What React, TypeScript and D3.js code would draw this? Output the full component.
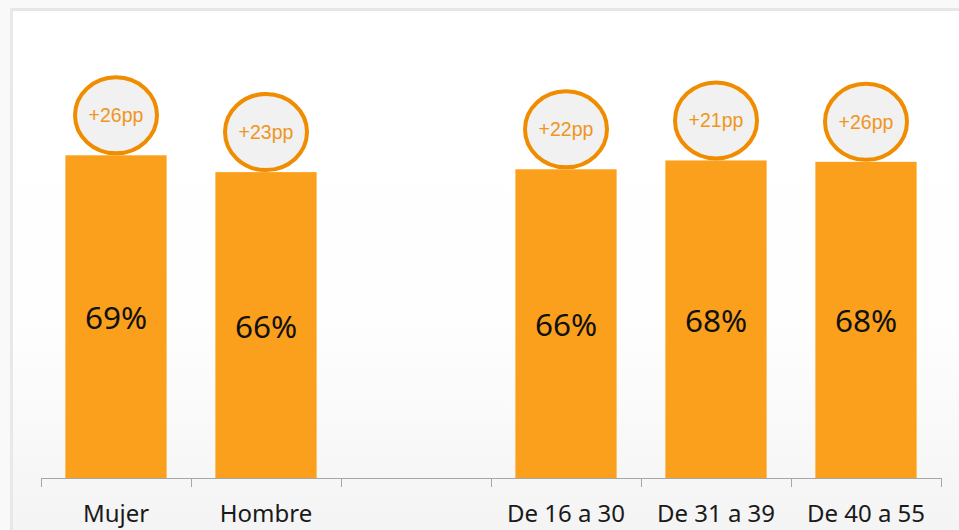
import React, { useEffect, useRef } from 'react';
import * as d3 from 'd3';

// categories (the empty slot keeps the gap between gender and age groups)
const categories = ['Mujer', 'Hombre', '', 'De 16 a 30', 'De 31 a 39', 'De 40 a 55'];
// bar heights (percent)
const values = [69.1, 65.5, null, 66.1, 68.0, 67.7];
// printed labels inside the bars
const valueLabels = ['69%', '66%', '', '66%', '68%', '68%'];
// change badges above the bars
const deltaLabels = ['+26pp', '+23pp', '', '+22pp', '+21pp', '+26pp'];

const BAR = '#FBA01C';
const RING = '#F08C00';
const BADGE_TEXT = '#EF9520';

function App() {
    const ref = useRef<SVGSVGElement>(null);

    useEffect(() => {
        const width = 959;
        const height = 530;
        const margin = { top: 11, right: 18, bottom: 52, left: 41 };

        const svg = d3.select(ref.current);
        svg.selectAll('*').remove();

        // background with a faint fade at the bottom
        const defs = svg.append('defs');
        const grad = defs.append('linearGradient')
            .attr('id', 'bg')
            .attr('x1', 0).attr('y1', 0).attr('x2', 0).attr('y2', 1);
        grad.append('stop').attr('offset', '0%').attr('stop-color', '#ffffff');
        grad.append('stop').attr('offset', '60%').attr('stop-color', '#fefefe');
        grad.append('stop').attr('offset', '100%').attr('stop-color', '#f4f4f4');

        svg.append('rect')
            .attr('width', width).attr('height', height)
            .attr('fill', '#f9f9f9');
        svg.append('rect')
            .attr('x', 12).attr('y', 10)
            .attr('width', width - 12).attr('height', height - 10)
            .attr('fill', 'url(#bg)');
        // frame edges (top and left)
        svg.append('rect')
            .attr('x', 10).attr('y', 8)
            .attr('width', width - 10).attr('height', 3)
            .attr('fill', '#e6e6e6');
        svg.append('rect')
            .attr('x', 10).attr('y', 8)
            .attr('width', 3).attr('height', height - 8)
            .attr('fill', '#e8e8e8');

        const x = d3.scaleBand()
            .domain(categories.map((c, i) => String(i)))
            .range([margin.left, width - margin.right])
            .paddingInner(0.325)
            .paddingOuter(0.1625);

        const band = d3.scaleBand()
            .domain(categories.map((c, i) => String(i)))
            .range([margin.left, width - margin.right]);

        const y = d3.scaleLinear()
            .domain([0, 100])
            .range([height - margin.bottom, margin.top]);

        const data = categories.map((c, i) => ({
            key: String(i),
            cat: c,
            value: values[i],
            label: valueLabels[i],
            delta: deltaLabels[i],
        })).filter(d => d.value !== null);

        // bars
        svg.append('g')
            .selectAll('rect')
            .data(data)
            .enter()
            .append('rect')
            .attr('x', d => x(d.key)!)
            .attr('y', d => y(d.value as number))
            .attr('width', x.bandwidth())
            .attr('height', d => y(0) - y(d.value as number))
            .attr('fill', BAR);

        // value labels in the middle of the bars
        svg.append('g')
            .selectAll('text')
            .data(data)
            .enter()
            .append('text')
            .attr('x', d => x(d.key)! + x.bandwidth() / 2)
            .attr('y', d => (y(d.value as number) + y(0)) / 2 + 12.5)
            .attr('text-anchor', 'middle')
            .attr('font-family', '"Noto Sans", sans-serif')
            .attr('font-size', 31.5)
            .attr('fill', '#111')
            .text(d => d.label);

        // badges
        const rx = 41;
        const ry = 38;
        const badges = svg.append('g')
            .selectAll('g')
            .data(data)
            .enter()
            .append('g')
            .attr('transform', d => `translate(${x(d.key)! + x.bandwidth() / 2},${y(d.value as number) - 40})`);

        badges.append('ellipse')
            .attr('rx', rx)
            .attr('ry', ry)
            .attr('fill', '#f1f1f1')
            .attr('stroke', RING)
            .attr('stroke-width', 4);

        badges.append('text')
            .attr('y', 7)
            .attr('text-anchor', 'middle')
            .attr('font-family', 'Arial, "Liberation Sans", sans-serif')
            .attr('font-size', 19.5)
            .attr('fill', BADGE_TEXT)
            .text(d => d.delta);

        // category axis: ticks at band edges
        const axis = svg.append('g');
        const base = y(0);
        axis.append('line')
            .attr('x1', margin.left).attr('x2', width - margin.right)
            .attr('y1', base + 0.5).attr('y2', base + 0.5)
            .attr('stroke', '#a6a6a6');

        const edges = categories.map((c, i) => band(String(i))!).concat([width - margin.right]);
        axis.selectAll('line.tick')
            .data(edges)
            .enter()
            .append('line')
            .attr('class', 'tick')
            .attr('x1', d => Math.round(d) + 0.5).attr('x2', d => Math.round(d) + 0.5)
            .attr('y1', base).attr('y2', base + 9)
            .attr('stroke', '#a6a6a6');

        axis.selectAll('text')
            .data(categories)
            .enter()
            .append('text')
            .attr('x', (d, i) => band(String(i))! + band.bandwidth() / 2)
            .attr('y', 522)
            .attr('text-anchor', 'middle')
            .attr('font-family', '"Noto Sans", sans-serif')
            .attr('font-size', 24)
            .attr('fill', '#1a1a1a')
            .text(d => d);
    }, []);

    return (
        <div style={{ position: 'absolute', left: 0, top: 0, width: 959, height: 530, overflow: 'hidden' }}>
            <svg ref={ref} width={959} height={530} style={{ display: 'block' }} />
        </div>
    );
}

export default App;
